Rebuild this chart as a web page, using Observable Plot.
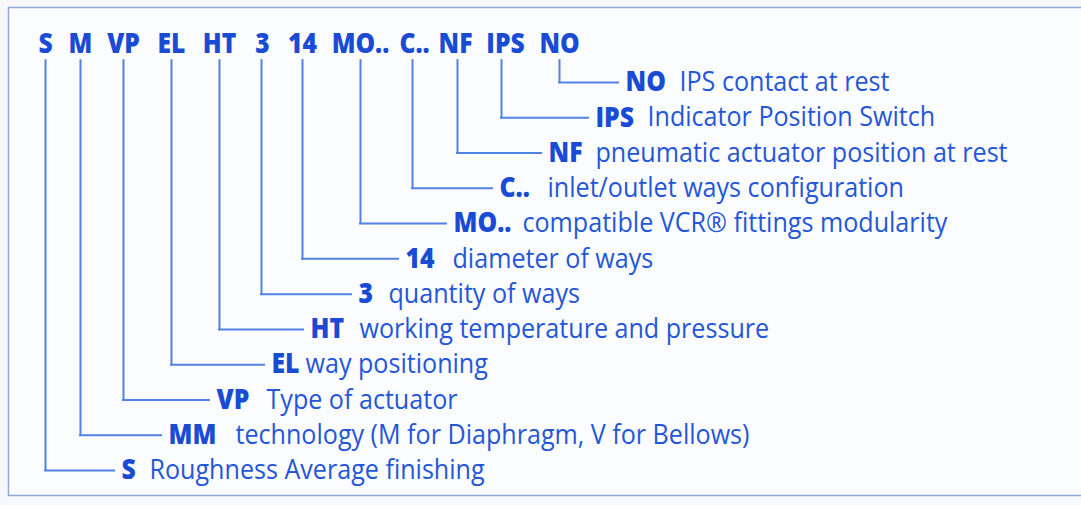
<!DOCTYPE html>
<html>
<head>
<meta charset="utf-8">
<script src="https://cdn.jsdelivr.net/npm/d3@7"></script>
<script src="https://cdn.jsdelivr.net/npm/@observablehq/plot@0.6"></script>
<style>
  html, body { margin: 0; padding: 0; background: #f7f8fb; }
  #chart { width: 1081px; height: 505px; overflow: hidden; }
</style>
</head>
<body>
<div id="chart"></div>
<script>
// Header codes of the part number, in left-to-right order
const codes = ["S", "M", "VP", "EL", "HT", "3", "14", "MO..", "C..", "NF", "IPS", "NO"];
// Column position of each code (x units)
const codeColumn = [45, 80, 123, 171, 219, 261, 302, 360, 412, 457, 501, 559];
// Column where each header code is centred
const headerColumn = [45, 80, 123, 171, 219, 262, 302, 360, 414, 455, 505, 559];
// Bold key shown in each explanation row
const keys = ["S", "MM", "VP", "EL", "HT", "3", "14", "MO..", "C..", "NF", "IPS", "NO"];
// Explanation text for each code
const descriptions = [
  "Roughness Average finishing",
  "technology (M for Diaphragm, V for Bellows)",
  "Type of actuator",
  "way positioning",
  "working temperature and pressure",
  "quantity of ways",
  "diameter of ways",
  "compatible VCR\u00AE fittings modularity",
  "inlet/outlet ways configuration",
  "pneumatic actuator position at rest",
  "Indicator Position Switch",
  "IPS contact at rest"
];
// Column where each row's key and its explanation start
const keyColumn = [121, 168, 216, 271, 310, 358, 405, 453, 499, 548, 595, 625];
const descColumn = [149, 235, 266, 305, 359, 388, 452, 522, 547, 595, 647, 679];
// Row level of each explanation (1 = top row, 12 = bottom row)
const rowLevel = [12, 11, 10, 9, 8, 7, 6, 5, 4, 3, 2, 1];

const rows = codes.map((c, i) => ({
  code: c,
  x: codeColumn[i],
  hx: headerColumn[i],
  key: keys[i],
  desc: descriptions[i],
  kx: keyColumn[i],
  dx: descColumn[i],
  level: rowLevel[i]
}));

const headerLevel = -0.1;
const lineTop = 0.38;
const lineColor = "#5282e4";
const keyColor = "#1a4bd4";
const textColor = "#2456d8";
const font = "'Open Sans', 'Noto Sans', sans-serif";

const plot = Plot.plot({
  width: 1081,
  height: 505,
  margin: 0,
  x: {type: "linear", domain: [0, 1081], range: [0, 1081], axis: null},
  y: {type: "linear", domain: [1, 12], range: [82, 470], axis: null},
  style: {background: "transparent"},
  marks: [
    Plot.frame({stroke: "#93a7d6", strokeWidth: 1.5, fill: "#fbfcfe", insetLeft: 8, insetTop: 7, insetBottom: 10, insetRight: -6}),
    Plot.ruleX(rows, {x: "x", y1: () => lineTop, y2: "level", stroke: lineColor, strokeWidth: 2, strokeLinecap: "square"}),
    Plot.ruleY(rows, {y: "level", x1: "x", x2: d => d.kx - 7, stroke: lineColor, strokeWidth: 2, strokeLinecap: "square"}),
    Plot.text(rows, {x: "hx", y: () => headerLevel, text: "code", fill: keyColor, fontWeight: 800, fontSize: 29, fontFamily: font, textAnchor: "middle"}),
    Plot.text(rows, {x: "kx", y: "level", text: "key", fill: keyColor, fontWeight: 800, fontSize: 27.5, fontFamily: font, textAnchor: "start"}),
    Plot.text(rows, {x: "dx", y: "level", text: "desc", fill: textColor, fontWeight: 500, fontSize: 27, fontFamily: font, textAnchor: "start"})
  ]
});

// Condense the glyphs horizontally (the reference uses a narrow humanist face)
function condense(fontSize, k) {
  plot.querySelectorAll("text").forEach(t => {
    const g = t.closest("g");
    if (!g || g.getAttribute("font-size") !== String(fontSize)) return;
    const tr = t.getAttribute("transform");
    if (tr) {
      t.setAttribute("transform", tr + ` scale(${k},1)`);
    } else {
      const x = +t.getAttribute("x") || 0, y = +t.getAttribute("y") || 0;
      t.setAttribute("transform", `translate(${x},${y}) scale(${k},1)`);
      t.setAttribute("x", 0);
      t.setAttribute("y", 0);
    }
  });
}
condense(29, 0.85);
condense(27.5, 0.9);
condense(27, 0.93);

document.getElementById("chart").appendChild(plot);
</script>
</body>
</html>
